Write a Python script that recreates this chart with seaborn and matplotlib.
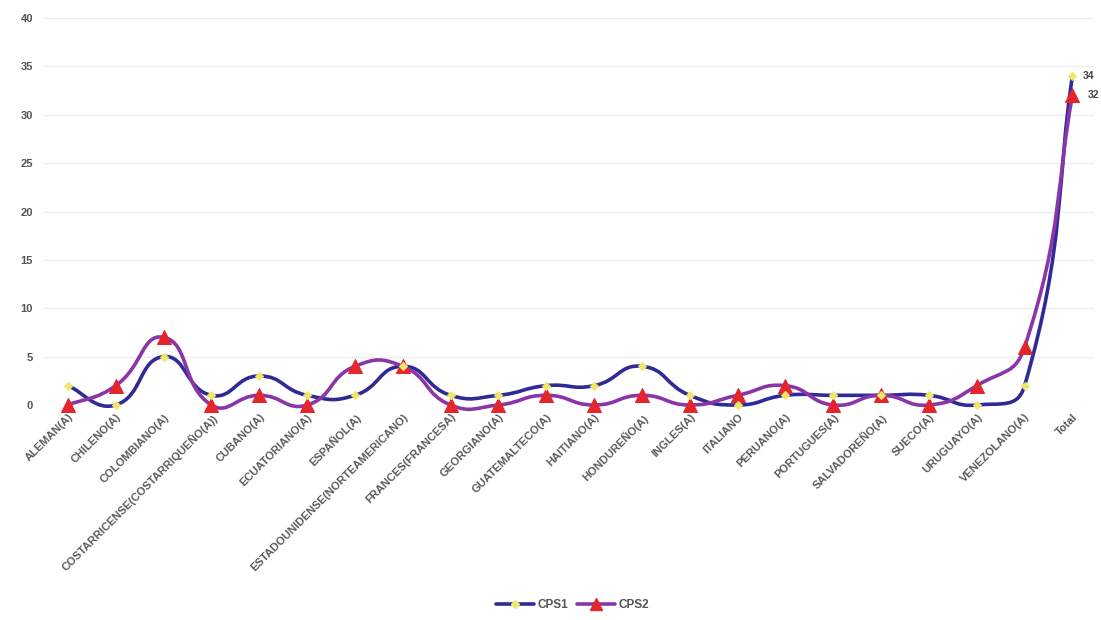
import numpy as np
import pandas as pd
import matplotlib
matplotlib.use("Agg")
import matplotlib.pyplot as plt
from matplotlib.path import Path
from matplotlib.patches import PathPatch
from matplotlib.lines import Line2D
import seaborn as sns

# datos
categorias = [
    "ALEMAN(A)", "CHILENO(A)", "COLOMBIANO(A)", "COSTARRICENSE(COSTARRIQUEÑO(A))",
    "CUBANO(A)", "ECUATORIANO(A)", "ESPAÑOL(A)", "ESTADOUNIDENSE(NORTEAMERICANO)",
    "FRANCES(FRANCESA)", "GEORGIANO(A)", "GUATEMALTECO(A)", "HAITIANO(A)",
    "HONDUREÑO(A)", "INGLES(A)", "ITALIANO", "PERUANO(A)", "PORTUGUES(A)",
    "SALVADOREÑO(A)", "SUECO(A)", "URUGUAYO(A)", "VENEZOLANO(A)", "Total",
]
cps1 = [2, 0, 5, 1, 3, 1, 1, 4, 1, 1, 2, 2, 4, 1, 0, 1, 1, 1, 1, 0, 2, 34]
cps2 = [0, 2, 7, 0, 1, 0, 4, 4, 0, 0, 1, 0, 1, 0, 1, 2, 0, 1, 0, 2, 6, 32]
y_ticks = [0, 5, 10, 15, 20, 25, 30, 35, 40]

col1_line, col1_mk = "#2f2a96", "#f2e66a"
col2_line, col2_mk = "#8a35a8", "#e3262b"

df = pd.DataFrame({"cat": categorias, "CPS1": cps1, "CPS2": cps2})
df["pos"] = np.arange(len(df))

# escala aproximada en pixeles (x: por categoria, y: por unidad)
SX, SY = 48.0, 9.675


def smooth_path(xs, ys, t=0.5):
    # curva suavizada estilo Excel, tangentes ponderadas por longitud de tramo
    pts = np.column_stack([np.asarray(xs) * SX, np.asarray(ys) * SY]).astype(float)
    n = len(pts)
    seg = np.linalg.norm(np.diff(pts, axis=0), axis=1)
    verts = [pts[0]]
    codes = [Path.MOVETO]
    for i in range(n - 1):
        p1, p2 = pts[i], pts[i + 1]
        d = seg[i]
        if i > 0:
            tan1 = pts[i + 1] - pts[i - 1]
            c1 = p1 + tan1 * t * d / (seg[i - 1] + d)
        else:
            c1 = p1 + (p2 - p1) / 3.0
        if i + 2 < n:
            tan2 = pts[i + 2] - pts[i]
            c2 = p2 - tan2 * t * d / (d + seg[i + 1])
        else:
            c2 = p2 - (p2 - p1) / 3.0
        verts += [c1, c2, p2]
        codes += [Path.CURVE4] * 3
    verts = np.array(verts) / [SX, SY]
    return Path(verts, codes)


sns.set_theme(style="white")
plt.rcParams["font.family"] = ["Liberation Sans", "DejaVu Sans"]

fig = plt.figure(figsize=(11.01, 6.2), dpi=100)
ax = fig.add_axes([44 / 1101, (620 - 405) / 620, 1050 / 1101, 387 / 620])

for s, lc in [("CPS1", col1_line), ("CPS2", col2_line)]:
    ax.add_patch(PathPatch(smooth_path(df["pos"], df[s]), facecolor="none",
                           edgecolor=lc, lw=2.6, zorder=2, clip_on=False))

sns.scatterplot(data=df, x="pos", y="CPS2", marker="^", s=100, color=col2_mk,
                edgecolor=col2_mk, ax=ax, zorder=4, clip_on=False, legend=False)
sns.scatterplot(data=df, x="pos", y="CPS1", marker="D", s=20, color=col1_mk,
                edgecolor=col1_mk, ax=ax, zorder=5, clip_on=False, legend=False)

# etiquetas de datos del total
ax.text(df["pos"].iloc[-1] + 0.22, cps1[-1], str(cps1[-1]), fontsize=7.5,
        color="#444444", va="center", ha="left", fontweight="bold")
ax.text(df["pos"].iloc[-1] + 0.32, cps2[-1], str(cps2[-1]), fontsize=7.5,
        color="#444444", va="center", ha="left", fontweight="bold")

ax.set_xlim(-0.5, len(categorias) - 0.55)
ax.set_ylim(0, 40)
ax.set_yticks(y_ticks)
ax.set_yticklabels([str(v) for v in y_ticks], fontsize=8, color="#555555",
                   fontweight="bold")
ax.set_xticks(df["pos"])
ax.set_xticklabels(categorias, rotation=45, ha="right", rotation_mode="anchor",
                   fontsize=8, color="#5a5a5a", fontweight="bold")
ax.tick_params(axis="x", pad=5, length=0)
ax.tick_params(axis="y", pad=8, length=0)
ax.yaxis.grid(True, color="#eeeeee", lw=1)
ax.set_axisbelow(True)
for sp in ax.spines.values():
    sp.set_visible(False)
ax.set_xlabel("")
ax.set_ylabel("")

handles = [
    Line2D([0], [0], color=col1_line, lw=2.6, marker="D", markersize=4,
           markerfacecolor=col1_mk, markeredgecolor=col1_mk),
    Line2D([0], [0], color=col2_line, lw=2.6, marker="^", markersize=9,
           markerfacecolor=col2_mk, markeredgecolor=col2_mk),
]
fig.legend(handles, ["CPS1", "CPS2"], loc="center", bbox_to_anchor=(0.52, 0.024),
           ncol=2, frameon=False, handlelength=3.2,
           columnspacing=0.8, handletextpad=0.3,
           labelcolor="#555555", prop={"weight": "bold", "size": 8.5})

fig.savefig("out.png", dpi=100)
